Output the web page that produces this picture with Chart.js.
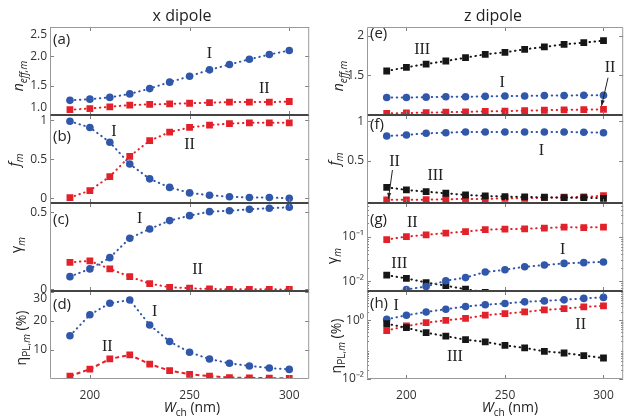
<!DOCTYPE html>
<html>
<head>
<meta charset="utf-8">
<script src="https://cdn.jsdelivr.net/npm/chart.js@4.4.0/dist/chart.umd.min.js"></script>
<style>
  body { margin: 0; width: 627px; height: 417px; overflow: hidden; background: #fff; position: relative;
         font-family: "Open Sans", sans-serif; color: #222; }
  .pane { position: absolute; }
  .lbl { position: absolute; white-space: nowrap; transform: translate(-50%, -50%); }
  .vlbl { position: absolute; white-space: nowrap; font-size: 14px; transform: translate(-50%, -50%) rotate(-90deg); }
  sub { font-size: 72%; vertical-align: baseline; position: relative; top: 0.35em; }
</style>
</head>
<body>
<script>
// channel width W_ch (nm)
const wch = [190, 200, 210, 220, 230, 240, 250, 260, 270, 280, 290, 300];
const xTicks = [200, 250, 300];

// x dipole
const neffX_I  = [1.25, 1.27, 1.30, 1.36, 1.45, 1.56, 1.66, 1.77, 1.86, 1.95, 2.03, 2.10];
const neffX_II = [1.09, 1.11, 1.14, 1.17, 1.18, 1.19, 1.20, 1.21, 1.22, 1.22, 1.22, 1.23];
const fX_I  = [0.99, 0.91, 0.72, 0.44, 0.25, 0.14, 0.07, 0.04, 0.02, 0.01, 0.01, 0.00];
const fX_II = [0.01, 0.10, 0.28, 0.54, 0.74, 0.85, 0.91, 0.94, 0.96, 0.97, 0.97, 0.97];
const gammaX_I  = [0.083, 0.133, 0.206, 0.332, 0.392, 0.446, 0.478, 0.504, 0.510, 0.519, 0.526, 0.532];
const gammaX_II = [0.176, 0.185, 0.133, 0.083, 0.038, 0.014, 0.008, 0.003, 0.001, 0.001, 0.001, 0.000];
const etaX_I  = [14.9, 22.1, 26.1, 27.2, 18.6, 12.9, 9.2, 6.9, 5.4, 4.5, 3.8, 3.3];
const etaX_II = [1.0, 3.4, 6.9, 8.3, 5.1, 2.9, 1.6, 1.0, 0.5, 0.4, 0.3, 0.2];

// z dipole
const neffZ_I   = [1.22, 1.22, 1.225, 1.23, 1.23, 1.235, 1.24, 1.24, 1.245, 1.245, 1.25, 1.25];
const neffZ_II  = [1.02, 1.025, 1.03, 1.035, 1.04, 1.045, 1.05, 1.055, 1.06, 1.065, 1.068, 1.072];
const neffZ_III = [1.555, 1.602, 1.643, 1.681, 1.723, 1.766, 1.791, 1.829, 1.858, 1.892, 1.912, 1.937];
const fZ_I   = [0.813, 0.826, 0.847, 0.855, 0.864, 0.864, 0.864, 0.864, 0.864, 0.864, 0.860, 0.855];
const fZ_II  = [0.000, 0.000, 0.002, 0.008, 0.011, 0.011, 0.020, 0.020, 0.028, 0.033, 0.037, 0.053];
const fZ_III = [0.160, 0.126, 0.104, 0.084, 0.062, 0.050, 0.041, 0.037, 0.033, 0.028, 0.028, 0.020];
const gammaZ_I   = [0.005, 0.0065, 0.0076, 0.0102, 0.012, 0.016, 0.018, 0.021, 0.023, 0.025, 0.026, 0.027];
const gammaZ_II  = [0.086, 0.100, 0.110, 0.120, 0.130, 0.143, 0.148, 0.150, 0.156, 0.164, 0.160, 0.164];
const gammaZ_III = [0.0136, 0.0115, 0.0093, 0.0079, 0.0066, 0.0056, 0.0048, 0.0041, 0.0035, 0.0030, 0.0026, 0.0022];
const etaZ_I   = [1.08, 1.49, 1.93, 2.40, 2.96, 3.40, 3.76, 4.27, 4.60, 5.00, 5.60, 6.06];
const etaZ_II  = [0.45, 0.64, 0.83, 1.00, 1.17, 1.50, 1.70, 1.93, 2.26, 2.50, 2.87, 3.10];
const etaZ_III = [0.77, 0.56, 0.38, 0.29, 0.22, 0.184, 0.14, 0.115, 0.088, 0.077, 0.063, 0.052];

// y tick values and labels
const yTicksA = [1.0, 1.5, 2.0, 2.5], yLabelsA = ['1.0', '1.5', '2.0', '2.5'];
const yTicksB = [0, 0.5, 1],         yLabelsB = ['0', '0.5', '1'];
const yTicksC = [0, 0.5],            yLabelsC = ['0', '0.5'];
const yTicksD = [10, 20, 30],        yLabelsD = ['10', '20', '30'];
const yTicksE = [1.5, 2],            yLabelsE = ['1.5', '2'];
const yTicksF = [0.5, 1],            yLabelsF = ['0.5', '1'];
const yTicksG = [0.01, 0.1],         yLabelsG = ['10\u207B\u00B2', '10\u207B\u00B9'];
const yTicksH = [0.01, 1, 10],       yLabelsH = ['10\u207B\u00B2', '10\u2070', ''];

const BLUE = '#3157ab', RED = '#e2212a', BLACK = '#161616';
const DOT = [0.5, 4.5], DASH = [4, 3];
const PAD = 8, PANEL_H = 88, XAXIS_H = 38, YAXIS_W = 50;

function series(values, color, shape, dash) {
  return {
    data: values.map((v, i) => ({ x: wch[i], y: v })),
    borderColor: color, backgroundColor: color,
    borderWidth: 2, borderDash: dash || DOT,
    borderCapStyle: dash === DASH ? 'butt' : 'round',
    tension: 0,
    pointStyle: shape, pointRadius: shape === 'circle' ? 3.8 : 4.8,
    pointBackgroundColor: color, pointBorderWidth: 0
  };
}

const panelDecor = {
  id: 'panelDecor',
  afterDraw(chart, args, o) {
    const { ctx, chartArea: a, scales: { x, y } } = chart;
    ctx.save();
    // inward tick marks on all four sides
    ctx.strokeStyle = '#808080';
    ctx.lineWidth = 1;
    ctx.beginPath();
    xTicks.forEach(v => {
      const px = Math.round(x.getPixelForValue(v)) + 0.5;
      ctx.moveTo(px, a.bottom); ctx.lineTo(px, a.bottom - 4);
      ctx.moveTo(px, a.top); ctx.lineTo(px, a.top + 4);
    });
    y.ticks.forEach(t => {
      const py = Math.round(y.getPixelForValue(t.value)) + 0.5;
      ctx.moveTo(a.left, py); ctx.lineTo(a.left + 4, py);
      ctx.moveTo(a.right, py); ctx.lineTo(a.right - 4, py);
    });
    if (o.minor) {
      for (let d = -3; d <= 1; d++) {
        for (let k = 2; k <= 9; k++) {
          const v = k * Math.pow(10, d);
          if (v <= y.min || v >= y.max) continue;
          const py = Math.round(y.getPixelForValue(v)) + 0.5;
          ctx.moveTo(a.left, py); ctx.lineTo(a.left + 2, py);
          ctx.moveTo(a.right, py); ctx.lineTo(a.right - 2, py);
        }
      }
    }
    ctx.stroke();

    // box, darker where panels meet
    const L = a.left + 0.5, R = a.right - 0.5, T = a.top + 0.5, B = a.bottom - 0.5;
    ctx.strokeStyle = '#9a9a9a';
    ctx.beginPath();
    ctx.moveTo(L, T); ctx.lineTo(L, B);
    ctx.moveTo(R, T); ctx.lineTo(R, B);
    ctx.stroke();
    ctx.strokeStyle = o.sepTop ? '#444' : '#9a9a9a';
    ctx.beginPath(); ctx.moveTo(L, T); ctx.lineTo(R, T); ctx.stroke();
    ctx.strokeStyle = o.sepBottom ? '#444' : '#9a9a9a';
    ctx.beginPath(); ctx.moveTo(L, B); ctx.lineTo(R, B); ctx.stroke();

    // panel letter
    ctx.fillStyle = '#222';
    ctx.font = '15px "Open Sans"';
    ctx.textAlign = 'left';
    ctx.textBaseline = 'middle';
    ctx.fillText(o.letter, a.left + 3, a.top + o.letterDy);

    // mode labels
    ctx.font = '16px "Liberation Serif"';
    ctx.textAlign = 'center';
    (o.notes || []).forEach(n => {
      ctx.fillText(n.t, x.getPixelForValue(n.x), y.getPixelForValue(n.y));
    });

    // arrows
    ctx.strokeStyle = '#222';
    ctx.lineWidth = 1;
    (o.arrows || []).forEach(ar => {
      const x1 = x.getPixelForValue(ar.x1), y1 = y.getPixelForValue(ar.y1);
      const x2 = x.getPixelForValue(ar.x2), y2 = y.getPixelForValue(ar.y2);
      const ang = Math.atan2(y2 - y1, x2 - x1);
      ctx.beginPath(); ctx.moveTo(x1, y1); ctx.lineTo(x2, y2); ctx.stroke();
      ctx.beginPath();
      ctx.moveTo(x2, y2);
      ctx.lineTo(x2 - 6 * Math.cos(ang - 0.35), y2 - 6 * Math.sin(ang - 0.35));
      ctx.lineTo(x2 - 6 * Math.cos(ang + 0.35), y2 - 6 * Math.sin(ang + 0.35));
      ctx.closePath(); ctx.fill();
    });
    ctx.restore();
  }
};

function makePanel(p) {
  const h = PAD + PANEL_H + (p.bottom ? XAXIS_H : PAD);
  const wrap = document.createElement('div');
  wrap.className = 'pane';
  wrap.style.left = p.left + 'px';
  wrap.style.top = (p.top - PAD) + 'px';
  wrap.style.width = p.width + 'px';
  wrap.style.height = h + 'px';
  const cv = document.createElement('canvas');
  wrap.appendChild(cv);
  document.body.appendChild(wrap);

  const shift = p.shift || [];
  new Chart(cv, {
    type: 'line',
    data: { datasets: p.datasets },
    options: {
      responsive: true, maintainAspectRatio: false, animation: false,
      layout: { padding: { top: PAD, bottom: p.bottom ? 0 : PAD, left: 0, right: 0 } },
      plugins: {
        legend: { display: false }, tooltip: { enabled: false },
        panelDecor: { letter: p.letter, letterDy: p.letterDy, notes: p.notes, arrows: p.arrows,
                      minor: p.log, sepTop: p.sepTop, sepBottom: p.sepBottom }
      },
      scales: {
        x: {
          type: 'linear', min: 180, max: 310,
          afterBuildTicks: s => { s.ticks = xTicks.map(v => ({ value: v })); },
          grid: { display: false, drawTicks: false },
          border: { display: false },
          ticks: { display: !!p.bottom, padding: 9, maxRotation: 0, autoSkip: false,
                   color: '#333', font: { family: 'Open Sans', size: 12 } },
          afterFit: s => { s.height = p.bottom ? XAXIS_H : 0; s.paddingLeft = 0; s.paddingRight = 0; }
        },
        y: {
          type: p.log ? 'logarithmic' : 'linear', min: p.ymin, max: p.ymax,
          afterBuildTicks: s => { s.ticks = p.yTicks.map(v => ({ value: v })); },
          grid: { display: false, drawTicks: false },
          border: { display: false },
          ticks: {
            padding: 3, autoSkip: false, color: '#333', font: { family: 'Open Sans', size: 12 },
            callback: (v, i) => {
              const lab = p.yLabels[i];
              if (shift[i] === 1) return ['', lab];
              if (shift[i] === -1) return [lab, ''];
              return lab;
            }
          },
          afterFit: s => { s.width = YAXIS_W; s.paddingTop = 0; s.paddingBottom = 0; }
        }
      }
    },
    plugins: [panelDecor]
  });
}

const LX = 0, LW = 314, RX = 317, RW = 311;
const tops = [27, 115, 203, 291];

// x dipole column
makePanel({ left: LX, width: LW, top: tops[0], ymin: 1.0, ymax: 2.5, yTicks: yTicksA, yLabels: yLabelsA,
  shift: [-1, 0, 0, 1], letter: '(a)', letterDy: 13, sepBottom: true,
  notes: [{ t: 'I', x: 260, y: 2.05 }, { t: 'II', x: 287.5, y: 1.45 }],
  datasets: [series(neffX_I, BLUE, 'circle'), series(neffX_II, RED, 'rect')] });
makePanel({ left: LX, width: LW, top: tops[1], ymin: -0.06, ymax: 1.07, yTicks: yTicksB, yLabels: yLabelsB,
  letter: '(b)', letterDy: 22, sepTop: true, sepBottom: true,
  notes: [{ t: 'I', x: 212, y: 0.86 }, { t: 'II', x: 250, y: 0.69 }],
  datasets: [series(fX_I, BLUE, 'circle'), series(fX_II, RED, 'rect')] });
makePanel({ left: LX, width: LW, top: tops[2], ymin: -0.01, ymax: 0.56, yTicks: yTicksC, yLabels: yLabelsC,
  letter: '(c)', letterDy: 17, sepTop: true, sepBottom: true,
  notes: [{ t: 'I', x: 225, y: 0.46 }, { t: 'II', x: 254, y: 0.126 }],
  datasets: [series(gammaX_I, BLUE, 'circle'), series(gammaX_II, RED, 'rect')] });
makePanel({ left: LX, width: LW, top: tops[3], bottom: true, ymin: 0, ymax: 30.3, yTicks: yTicksD, yLabels: yLabelsD,
  shift: [0, 0, 1], letter: '(d)', letterDy: 14, sepTop: true,
  notes: [{ t: 'I', x: 232.5, y: 23.2 }, { t: 'II', x: 208.7, y: 11.1 }],
  datasets: [series(etaX_I, BLUE, 'circle'), series(etaX_II, RED, 'rect', DASH)] });

// z dipole column
makePanel({ left: RX, width: RW, top: tops[0], ymin: 1.0, ymax: 2.11, yTicks: yTicksE, yLabels: yLabelsE,
  letter: '(e)', letterDy: 7, sepBottom: true,
  notes: [{ t: 'III', x: 208, y: 1.82 }, { t: 'I', x: 248.6, y: 1.40 }, { t: 'II', x: 303.3, y: 1.59 }],
  arrows: [{ x1: 302.3, y1: 1.47, x2: 299, y2: 1.115 }],
  datasets: [series(neffZ_III, BLACK, 'rect'), series(neffZ_I, BLUE, 'circle'), series(neffZ_II, RED, 'rect')] });
makePanel({ left: RX, width: RW, top: tops[1], ymin: -0.04, ymax: 1.08, yTicks: yTicksF, yLabels: yLabelsF,
  letter: '(f)', letterDy: 10, sepTop: true, sepBottom: true,
  notes: [{ t: 'I', x: 268.5, y: 0.63 }, { t: 'II', x: 194, y: 0.49 }, { t: 'III', x: 214.7, y: 0.30 }],
  arrows: [{ x1: 192.9, y1: 0.38, x2: 190.9, y2: 0.015 }],
  datasets: [series(fZ_I, BLUE, 'circle'), series(fZ_III, BLACK, 'rect'), series(fZ_II, RED, 'rect')] });
makePanel({ left: RX, width: RW, top: tops[2], log: true, ymin: 0.006, ymax: 0.57, yTicks: yTicksG, yLabels: yLabelsG,
  letter: '(g)', letterDy: 17, sepTop: true, sepBottom: true,
  notes: [{ t: 'II', x: 203, y: 0.2 }, { t: 'I', x: 279.3, y: 0.051 }, { t: 'III', x: 196.4, y: 0.0239 }],
  datasets: [series(gammaZ_II, RED, 'rect'), series(gammaZ_I, BLUE, 'circle'), series(gammaZ_III, BLACK, 'rect')] });
makePanel({ left: RX, width: RW, top: tops[3], bottom: true, log: true, ymin: 0.01, ymax: 10, yTicks: yTicksH, yLabels: yLabelsH,
  letter: '(h)', letterDy: 13, sepTop: true,
  notes: [{ t: 'I', x: 194.8, y: 3.1 }, { t: 'II', x: 288.4, y: 0.73 }, { t: 'III', x: 224.6, y: 0.059 }],
  datasets: [series(etaZ_III, BLACK, 'rect'), series(etaZ_II, RED, 'rect'), series(etaZ_I, BLUE, 'circle')] });

// column titles and axis titles
function addLabel(html, cx, cy, cls, size) {
  const d = document.createElement('div');
  d.className = cls;
  d.style.left = cx + 'px';
  d.style.top = cy + 'px';
  if (size) d.style.fontSize = size + 'px';
  d.innerHTML = html;
  document.body.appendChild(d);
}
addLabel('x dipole', 182, 15, 'lbl', 16);
addLabel('z dipole', 493, 15, 'lbl', 16);
addLabel('<i>W</i><sub>ch</sub> (nm)', 192, 406, 'lbl', 14);
addLabel('<i>W</i><sub>ch</sub> (nm)', 510, 406, 'lbl', 14);

const nEff = '<i>n</i><sub><i>eff,m</i></sub>';
const fM = '<i>f</i><sub><i>m</i></sub>';
const gM = '\u03B3<sub><i>m</i></sub>';
const etaM = '\u03B7<sub>PL,<i>m</i></sub> (%)';
addLabel(nEff, 17, 76, 'vlbl');
addLabel(fM, 13, 160, 'vlbl');
addLabel(gM, 15, 245, 'vlbl');
addLabel(etaM, 20, 338, 'vlbl');
addLabel(nEff, 337, 76, 'vlbl');
addLabel(fM, 333, 159, 'vlbl');
addLabel(gM, 331, 256, 'vlbl');
addLabel(etaM, 335, 346, 'vlbl');
</script>
</body>
</html>
